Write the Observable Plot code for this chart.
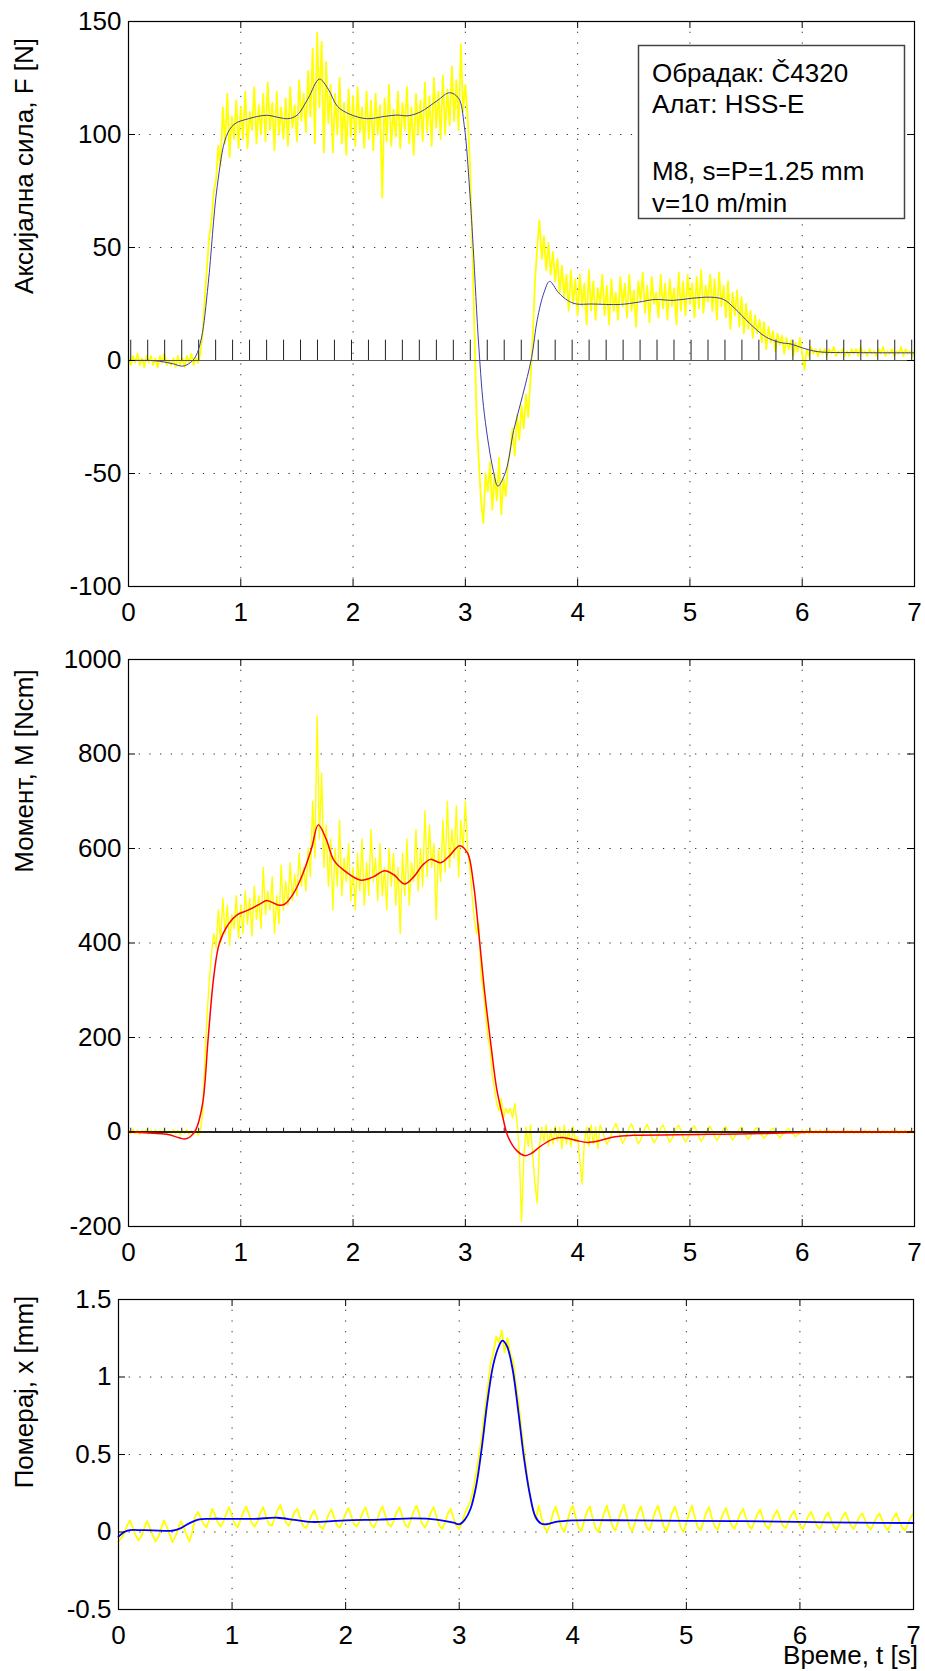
<!DOCTYPE html>
<html><head><meta charset="utf-8">
<script src="https://cdn.jsdelivr.net/npm/d3@7"></script>
<script src="https://cdn.jsdelivr.net/npm/@observablehq/plot@0.6"></script>
<style>
body{margin:0;background:#fff;}
#page{position:relative;width:925px;height:1671px;overflow:hidden;font-family:"Liberation Sans",Arial,Helvetica,sans-serif;}
.panel{position:absolute;left:0;}
</style></head>
<body><div id="page"></div>
<script>
// ---------- shared ----------
const xTicks = [0, 1, 2, 3, 4, 5, 6, 7];
const rawStep = 0.02;      // sample spacing of the raw (yellow) force / moment records [s]
const rawStepDisp = 0.025; // sample spacing of the raw displacement record [s]
// spindle revolution pulses [s]
const pulseTimes = [0.020,0.171,0.322,0.474,0.625,0.776,0.927,1.078,1.230,1.381,1.532,1.683,1.834,1.986,2.137,2.288,2.439,2.590,2.742,2.893,3.044,3.195,3.346,3.498,3.649,3.800,3.951,4.102,4.254,4.405,4.556,4.707,4.858,5.010,5.161,5.312,5.463,5.614,5.766,5.917,6.068,6.219,6.370,6.522,6.673,6.824,6.975];

// ---------- panel 1: axial force ----------
const forceTicks = [-100, -50, 0, 50, 100, 150];
const forcePulseHeight = 9;
const forceT = [0,0.2,0.3,0.4,0.48,0.55,0.6,0.65,0.71,0.79,0.87,0.94,1.07,1.23,1.34,1.42,1.5,1.6,1.7,1.78,1.86,1.97,2.12,2.28,2.39,2.49,2.6,2.75,2.86,2.94,2.99,3.04,3.07,3.12,3.17,3.25,3.29,3.36,3.43,3.51,3.59,3.64,3.70,3.75,3.83,3.91,3.99,4.12,4.38,4.54,4.69,4.85,5.01,5.19,5.30,5.40,5.53,5.67,5.80,5.90,6.0,6.14,6.48,7.0];
const forceSmooth = [0,0,-0.5,-1.5,-2.5,-1,2,10,34,77,99,104.5,107,108.5,107.5,107,108.5,116,124.5,120,112.5,109,107,108,108.6,108.3,110,115,118.5,116,104,74,50,6,-24,-49,-55.6,-49,-31,-15.5,1.3,18,30,35,30,26.6,25,25,24.8,25.8,27,26.6,27.5,28,27,23,16.5,10.6,8,7.3,5.6,3.9,3.5,3.4];
const forceRaw = [
 1,-2,2,-1,3,-2,1,-3,2,-1,
 2,-2,1,-3,2,-1,3,-2,0,-2,
 1,-3,2,-2,1,-3,2,-1,3,-2,
 1,-1,3,12,28,42,55,62,75,80,
 95,86,112,96,118,90,108,98,115,94,
 112,98,119,94,110,102,121,96,113,100,
 118,97,123,102,114,93,119,100,112,98,
 116,95,121,103,113,97,124,106,118,101,
 128,108,138,96,145,112,141,92,132,105,
 122,92,118,100,125,96,114,91,120,99,
 117,95,121,101,112,94,119,98,115,93,
 118,100,113,72,116,97,122,95,111,99,
 119,94,114,102,121,96,112,91,118,100,
 115,97,123,101,117,95,125,103,119,98,
 126,100,120,104,130,106,124,102,140,110,
 122,108,88,55,15,-25,-45,-62,-72,-50,
 -58,-45,-66,-50,-62,-43,-68,-52,-60,-45,
 -40,-30,-42,-24,-35,-20,-30,-15,-25,-8,
 10,35,50,62,45,55,40,52,38,48,
 35,45,30,42,28,38,22,40,25,36,
 20,38,24,34,16,40,22,35,18,32,
 25,38,20,33,16,36,22,30,18,37,
 24,34,19,38,22,31,15,35,26,39,
 21,33,17,37,25,30,19,38,23,34,
 18,36,24,32,16,39,22,35,20,38,
 25,34,19,37,23,40,21,33,26,38,
 22,36,18,39,24,33,19,35,14,30,
 20,31,15,28,12,25,14,22,10,20,
 12,18,8,17,5,15,8,13,4,12,
 7,11,3,10,5,9,2,8,4,10,
 3,-4,5,2,6,3,5,2,5,3,
 5,2,5,3,6,2,4,3,5,2,
 4,2,5,3,5,2,6,3,4,2,
 5,3,4,2,5,3,6,2,4,3,
 5,2,4,3,6,2,5,3,4,2,
 4];

// ---------- panel 2: moment ----------
const momentTicks = [-200, 0, 200, 400, 600, 800, 1000];
const momentPulseHeight = 8;
const momentT = [0,0.18,0.34,0.45,0.5,0.55,0.6,0.66,0.71,0.76,0.81,0.89,0.97,1.07,1.18,1.23,1.34,1.39,1.47,1.55,1.63,1.69,1.76,1.83,1.94,2.07,2.18,2.28,2.36,2.46,2.54,2.62,2.69,2.78,2.86,2.95,3.02,3.07,3.12,3.17,3.23,3.28,3.33,3.38,3.46,3.53,3.59,3.67,3.78,3.88,3.99,4.09,4.2,4.33,4.49,4.9,5.16,5.43,5.69,6.0,6.2,7.0];
const momentSmooth = [0,-2,-5,-12,-15,-10,5,60,200,330,400,440,460,470,484,490,480,482,505,545,600,650,620,575,550,533,540,553,545,525,540,565,577,570,585,606,590,530,420,300,180,90,35,-10,-40,-50,-45,-30,-15,-12,-18,-22,-18,-10,-7,-6,-5,-4,-3,-1,0,0];
const momentRaw = [
 5,-4,6,-3,4,-5,3,-2,6,-4,
 4,-3,5,-5,3,-2,6,-4,2,-3,
 5,-4,3,-6,4,-3,5,-5,3,-4,
 4,-8,2,40,150,250,320,380,420,390,
 470,400,495,420,480,395,460,430,500,410,
 480,420,510,440,495,415,520,450,500,430,
 560,460,510,470,540,420,500,440,565,470,
 530,480,570,490,545,500,590,520,560,510,
 600,540,700,580,880,620,760,560,650,520,
 620,470,600,520,660,500,580,530,610,490,
 560,470,590,510,620,480,570,500,640,530,
 580,490,610,500,560,470,600,520,590,480,
 560,420,590,500,620,480,570,530,640,510,
 600,520,680,540,650,560,610,450,600,530,
 660,550,700,560,640,580,690,540,660,600,
 700,600,560,500,450,420,440,330,300,250,
 200,180,120,90,60,45,70,30,50,40,
 50,30,60,20,-40,-190,-60,10,-30,15,
 -50,-110,-150,-30,10,-20,15,-30,5,-25,
 12,-20,10,-35,15,-25,5,-30,12,-20,
 -10,-60,-110,-20,10,-30,15,-25,10,-35,
 15,4,-12,-26,-18,-6,8,18,6,-10,
 -24,-16,-5,10,17,5,-11,-25,-17,-4,
 9,16,4,-12,-23,-15,-5,8,15,3,
 -10,-22,-14,-4,9,14,4,-11,-21,-13,
 -3,8,13,2,-10,-20,-12,-3,7,12,
 2,-9,-18,-11,-2,7,11,1,-9,-17,
 -10,-2,6,10,1,-8,-15,-9,-1,6,
 9,0,-7,-13,-8,-1,5,8,0,-6,
 -12,-7,-1,4,7,0,-5,-10,-6,-1,
 4,-3,5,-4,3,-2,4,-3,5,-2,
 3,-3,4,-2,3,-3,2,-2,4,-3,
 3,-2,4,-3,2,-2,3,-3,4,-2,
 3,-3,2,-2,4,-3,3,-2,2,-3,
 4,-2,3,-3,2,-2,4,-3,3,-2,
 2];

// ---------- panel 3: displacement ----------
const dispTicks = [-0.5, 0, 0.5, 1, 1.5];
const dispT = [0,0.05,0.1,0.2,0.3,0.47,0.55,0.62,0.7,0.8,1.0,1.2,1.4,1.55,1.7,1.85,2.0,2.3,2.6,2.8,2.95,3.0,3.05,3.1,3.15,3.2,3.25,3.3,3.35,3.38,3.42,3.47,3.52,3.57,3.62,3.67,3.72,3.77,3.85,4.0,4.5,5.0,5.5,6.0,6.5,7.0];
const dispSmooth = [-0.03,0,0.012,0.012,0.011,0.008,0.025,0.055,0.08,0.085,0.085,0.085,0.092,0.078,0.065,0.068,0.075,0.08,0.088,0.08,0.06,0.05,0.08,0.15,0.3,0.55,0.85,1.08,1.2,1.235,1.2,1.05,0.78,0.48,0.25,0.1,0.055,0.05,0.065,0.075,0.075,0.072,0.07,0.065,0.06,0.058];
const dispRaw = [
 -0.06,-0.04,-0.01,0.04,0.075,0.03,-0.02,-0.055,-0.03,0.02,0.07,0.03,-0.02,-0.06,-0.035,0.02,0.075,0.035,-0.015,-0.065,-0.03,0.02,0.07,0.03,-0.02,-0.06,0.0,
 0.10,0.13,0.09,0.05,0.03,0.08,
 0.15,0.11,0.06,0.035,0.07,0.12,
 0.16,0.10,0.05,0.03,0.08,0.13,
 0.165,0.11,0.055,0.035,0.07,0.125,
 0.16,0.10,0.05,0.04,0.09,0.14,
 0.175,0.12,0.06,0.04,0.08,0.13,
 0.15,0.09,0.04,0.025,0.06,0.11,
 0.14,0.085,0.035,0.02,0.06,0.115,
 0.145,0.09,0.04,0.03,0.07,0.12,
 0.155,0.10,0.05,0.035,0.075,0.125,
 0.16,0.10,0.045,0.03,0.07,0.13,
 0.165,0.105,0.05,0.035,0.075,0.13,
 0.16,0.10,0.045,0.03,0.08,0.135,
 0.17,0.11,0.05,0.03,0.07,0.125,
 0.16,0.10,0.04,0.02,0.06,0.12,
 0.15,0.09,0.04,0.02,
 0.06,0.12,0.16,0.2,0.28,0.38,0.5,0.62,0.78,0.92,1.08,1.15,1.26,1.22,1.3,1.16,1.25,1.15,1.1,0.95,0.82,0.65,0.5,0.35,0.22,0.14,0.08,
 0.17,0.09,0.03,0.0,0.05,0.12,
 0.165,0.10,0.03,0.0,0.06,0.13,
 0.17,0.10,0.03,0.005,0.07,0.13,
 0.165,0.09,0.025,0.0,0.06,0.12,
 0.17,0.10,0.035,0.01,0.07,0.13,
 0.175,0.10,0.03,0.005,0.065,0.125,
 0.165,0.095,0.03,0.01,0.07,0.13,
 0.17,0.10,0.035,0.005,0.065,0.125,
 0.165,0.10,0.03,0.0,0.06,0.12,
 0.17,0.095,0.03,0.01,0.065,0.125,
 0.16,0.09,0.035,0.015,0.07,0.12,
 0.155,0.09,0.04,0.02,0.07,0.12,
 0.15,0.09,0.04,0.02,0.065,0.115,
 0.145,0.085,0.04,0.02,0.065,0.11,
 0.14,0.085,0.04,0.025,0.065,0.11,
 0.135,0.08,0.04,0.02,0.06,0.105,
 0.13,0.08,0.04,0.02,0.06,0.10,
 0.125,0.075,0.035,0.015,0.055,0.10,
 0.125,0.08,0.04,0.02,0.06,0.10,
 0.12,0.075,0.035,0.015,0.055,0.095,
 0.12,0.075,0.035,0.01,0.05,0.095,
 0.12,0.07,0.03,0.01,0.05,0.095,
 0.12];

// ---------- texts ----------
const yLabels = ["Аксијална сила, F [N]", "Момент, M [Ncm]", "Померај, x [mm]"];
const xLabel = "Време, t [s]";
const legendLines = ["Обрадак: Č4320", "Алат: HSS-E", "", "M8, s=P=1.25 mm", "v=10 m/min"];

// ---------- helpers ----------
const FONT = '"Liberation Sans", Arial, Helvetica, sans-serif';
const toRows = (ts, vs) => ts.map((t, i) => ({t, v: vs[i]}));
const rawRows = (vs, step) => vs.map((v, i) => ({t: i * step, v}));

function panel({top, height, mt, mb, ml, mr, yDomain, yTicks, marks}) {
  const fw = 925 - ml - mr, fh = height - mt - mb;
  const tick = 7;
  const p = Plot.plot({
    width: 925, height,
    marginTop: mt, marginBottom: mb, marginLeft: ml, marginRight: mr,
    x: {domain: [0, 7]},
    y: {domain: yDomain},
    style: {fontFamily: FONT, fontSize: "26px", color: "#000", background: "transparent", overflow: "visible"},
    marks: [
      Plot.ruleX(xTicks, {stroke: "#000", strokeWidth: 1, strokeDasharray: "1.2,9.5", strokeOpacity: 0.85}),
      Plot.ruleY(yTicks, {stroke: "#000", strokeWidth: 1, strokeDasharray: "1.2,9.5", strokeOpacity: 0.85}),
      ...marks,
      Plot.ruleX(xTicks, {stroke: "#000", insetTop: fh - tick}),
      Plot.ruleX(xTicks, {stroke: "#000", insetBottom: fh - tick}),
      Plot.ruleY(yTicks, {stroke: "#000", insetRight: fw - tick}),
      Plot.ruleY(yTicks, {stroke: "#000", insetLeft: fw - tick}),
      Plot.frame({stroke: "#000", strokeWidth: 1.2}),
      Plot.axisX(xTicks, {tickSize: 0, tickPadding: 16, label: null, tickFormat: d => String(d), fontSize: 26}),
      Plot.axisY(yTicks, {tickSize: 0, tickPadding: 7, label: null, tickFormat: d => String(d), fontSize: 26})
    ]
  });
  p.classList.add("panel");
  p.style.top = top + "px";
  document.getElementById("page").appendChild(p);
  return d3.select(p);
}

function yLabel(svg, text, cy) {
  svg.append("text")
    .attr("transform", `translate(33,${cy}) rotate(-90)`)
    .attr("text-anchor", "middle")
    .attr("font-family", FONT).attr("font-size", 26).attr("fill", "#000")
    .text(text);
}

// ---------- panel 1 ----------
const s1 = panel({
  top: 0, height: 640, mt: 21, mb: 54, ml: 128, mr: 11,
  yDomain: [-100, 150], yTicks: forceTicks,
  marks: [
    Plot.line(rawRows(forceRaw, rawStep), {x: "t", y: "v", stroke: "#ffff00", strokeWidth: 1.8}),
    Plot.ruleY([0], {stroke: "#555", strokeWidth: 1}),
    Plot.ruleX(pulseTimes, {x: d => d, y1: 0, y2: forcePulseHeight, stroke: "#222", strokeWidth: 1}),
    Plot.line(toRows(forceT, forceSmooth), {x: "t", y: "v", stroke: "#3c3ca8", strokeWidth: 1, curve: "catmull-rom"})
  ]
});
yLabel(s1, yLabels[0], 166);
const lg = s1.append("g");
lg.append("rect").attr("x", 638.5).attr("y", 45.5).attr("width", 266).attr("height", 173)
  .attr("fill", "#fff").attr("stroke", "#444").attr("stroke-width", 1.5);
const legendBaselines = [82, 113, 146, 180, 212];
legendLines.forEach((t, i) => {
  if (!t) return;
  lg.append("text").attr("x", 652).attr("y", legendBaselines[i])
    .attr("text-anchor", "start")
    .attr("font-family", FONT).attr("font-size", 26).attr("fill", "#000").text(t);
});

// ---------- panel 2 ----------
const s2 = panel({
  top: 640, height: 640, mt: 19, mb: 54, ml: 128, mr: 11,
  yDomain: [-200, 1000], yTicks: momentTicks,
  marks: [
    Plot.line(rawRows(momentRaw, rawStep), {x: "t", y: "v", stroke: "#ffff00", strokeWidth: 1.4}),
    Plot.ruleY([0], {stroke: "#222", strokeWidth: 2}),
    Plot.ruleX(pulseTimes, {x: d => d, y1: 0, y2: momentPulseHeight, stroke: "#222", strokeWidth: 1}),
    Plot.line(toRows(momentT, momentSmooth), {x: "t", y: "v", stroke: "#ff0000", strokeWidth: 1.5, curve: "catmull-rom"})
  ]
});
yLabel(s2, yLabels[1], 131);

// ---------- panel 3 ----------
const s3 = panel({
  top: 1280, height: 391, mt: 19, mb: 62, ml: 118, mr: 12,
  yDomain: [-0.5, 1.5], yTicks: dispTicks,
  marks: [
    Plot.line(rawRows(dispRaw, rawStepDisp), {x: "t", y: "v", stroke: "#ffff00", strokeWidth: 1.8}),
    Plot.line(toRows(dispT, dispSmooth), {x: "t", y: "v", stroke: "#0000ff", strokeWidth: 1.8, curve: "catmull-rom"})
  ]
});
yLabel(s3, yLabels[2], 112);
s3.append("text").attr("x", 918).attr("y", 384).attr("text-anchor", "end")
  .attr("font-family", FONT).attr("font-size", 26).attr("fill", "#000").text(xLabel);
</script>
</body></html>
